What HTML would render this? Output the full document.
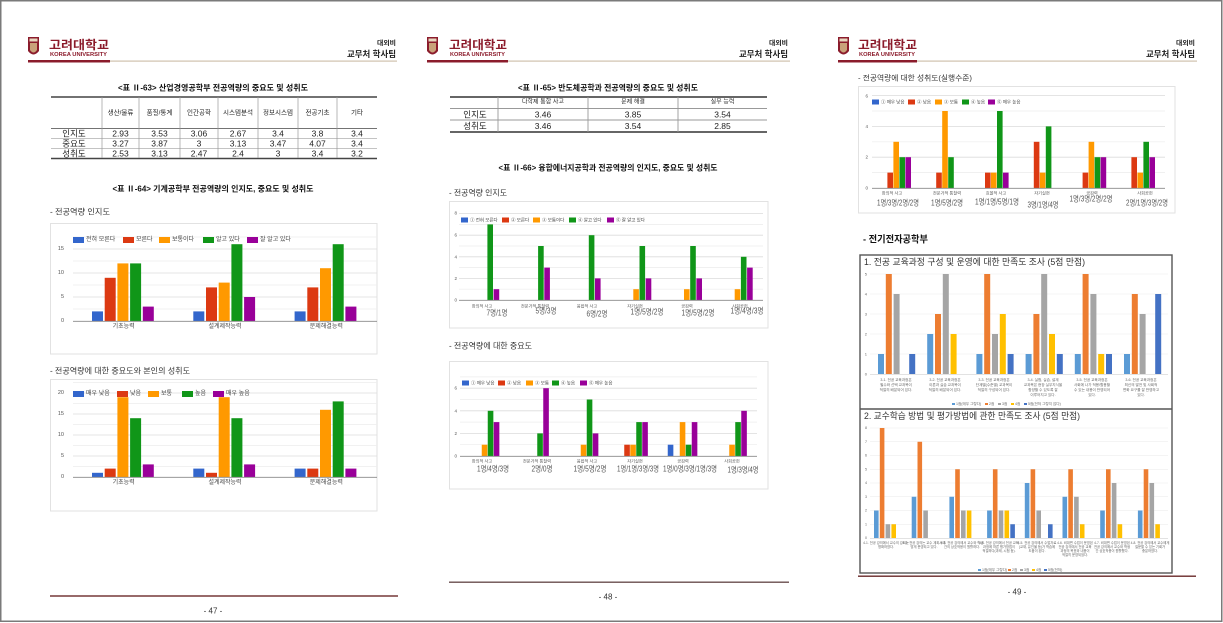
<!DOCTYPE html>
<html><head><meta charset="utf-8">
<style>
html,body{margin:0;padding:0;background:#fff;}
svg{display:block;font-family:"Liberation Sans","Noto Sans CJK KR",sans-serif;}
</style></head>
<body>
<svg width="1223" height="623" viewBox="0 0 1223 623" xmlns="http://www.w3.org/2000/svg">
<rect x="0" y="0" width="1223" height="623" fill="#fff"/>
<!-- outer border -->
<rect x="0.75" y="0.75" width="1221" height="620.5" fill="none" stroke="#7a7a7a" stroke-width="1.5"/>

<!-- ================= HEADERS ================= -->
<g id="hdr1">
  <path d="M28,37 H39 V51 Q33.5,58 28,51 Z" fill="#8b1c2c"/>
  <rect x="29.5" y="38.5" width="8" height="3" fill="#e8d7c0"/>
  <path d="M30,43 H37 V50 Q33.5,55 30,50 Z" fill="#c9a27a"/>
  <text x="49" y="49" font-size="12" font-weight="bold" fill="#8b1a2a" textLength="60" lengthAdjust="spacingAndGlyphs">고려대학교</text>
  <text x="50" y="56" font-size="5" font-weight="bold" fill="#8b1a2a" textLength="57" lengthAdjust="spacingAndGlyphs">KOREA UNIVERSITY</text>
  <rect x="110" y="60.5" width="287" height="1.2" fill="#cfc2ad"/>
  <rect x="28" y="60" width="82" height="2.5" fill="#8b1c2c"/>
  <text x="396" y="45" font-size="6.5" font-weight="bold" fill="#222" text-anchor="end" textLength="19" lengthAdjust="spacingAndGlyphs">대외비</text>
  <text x="396" y="57" font-size="8.5" font-weight="bold" fill="#222" text-anchor="end" textLength="49" lengthAdjust="spacingAndGlyphs">교무처 학사팀</text>
</g>
<g id="hdr2">
  <path d="M427,37 H438 V51 Q432.5,58 427,51 Z" fill="#8b1c2c"/>
  <rect x="428.5" y="38.5" width="8" height="3" fill="#e8d7c0"/>
  <path d="M429,43 H436 V50 Q432.5,55 429,50 Z" fill="#c9a27a"/>
  <text x="449" y="49" font-size="12" font-weight="bold" fill="#8b1a2a" textLength="58" lengthAdjust="spacingAndGlyphs">고려대학교</text>
  <text x="450" y="56" font-size="5" font-weight="bold" fill="#8b1a2a" textLength="55" lengthAdjust="spacingAndGlyphs">KOREA UNIVERSITY</text>
  <rect x="508" y="60.5" width="282" height="1.2" fill="#cfc2ad"/>
  <rect x="427" y="60" width="81" height="2.5" fill="#8b1c2c"/>
  <text x="788" y="45" font-size="6.5" font-weight="bold" fill="#222" text-anchor="end" textLength="19" lengthAdjust="spacingAndGlyphs">대외비</text>
  <text x="788" y="57" font-size="8.5" font-weight="bold" fill="#222" text-anchor="end" textLength="49" lengthAdjust="spacingAndGlyphs">교무처 학사팀</text>
</g>
<g id="hdr3">
  <path d="M838,37 H849 V51 Q843.5,58 838,51 Z" fill="#8b1c2c"/>
  <rect x="839.5" y="38.5" width="8" height="3" fill="#e8d7c0"/>
  <path d="M840,43 H847 V50 Q843.5,55 840,50 Z" fill="#c9a27a"/>
  <text x="858" y="49" font-size="12" font-weight="bold" fill="#8b1a2a" textLength="59" lengthAdjust="spacingAndGlyphs">고려대학교</text>
  <text x="859" y="56" font-size="5" font-weight="bold" fill="#8b1a2a" textLength="56" lengthAdjust="spacingAndGlyphs">KOREA UNIVERSITY</text>
  <rect x="917" y="60.5" width="280" height="1.2" fill="#cfc2ad"/>
  <rect x="838" y="60" width="79" height="2.5" fill="#8b1c2c"/>
  <text x="1195" y="45" font-size="6.5" font-weight="bold" fill="#222" text-anchor="end" textLength="19" lengthAdjust="spacingAndGlyphs">대외비</text>
  <text x="1195" y="57" font-size="8.5" font-weight="bold" fill="#222" text-anchor="end" textLength="49" lengthAdjust="spacingAndGlyphs">교무처 학사팀</text>
</g>

<!-- ================= PAGE 1 ================= -->
<text x="213" y="88" font-size="8" font-weight="bold" fill="#111" text-anchor="middle" dominant-baseline="central" textLength="190" lengthAdjust="spacingAndGlyphs">&lt;표 Ⅱ-63&gt; 산업경영공학부 전공역량의 중요도 및 성취도</text>
<!-- table 1 -->
<g stroke="#444" fill="none">
  <line x1="51" y1="97" x2="377" y2="97" stroke-width="1.6"/>
  <line x1="51" y1="128.5" x2="377" y2="128.5" stroke-width="0.8"/>
  <line x1="51" y1="138.5" x2="377" y2="138.5" stroke-width="0.6" stroke="#888"/>
  <line x1="51" y1="148.5" x2="377" y2="148.5" stroke-width="0.6" stroke="#888"/>
  <line x1="51" y1="158.5" x2="377" y2="158.5" stroke-width="1.4"/>
</g>
<g stroke="#999" stroke-width="0.7">
  <line x1="102" y1="97" x2="102" y2="158"/><line x1="139" y1="97" x2="139" y2="158"/>
  <line x1="180" y1="97" x2="180" y2="158"/><line x1="218" y1="97" x2="218" y2="158"/>
  <line x1="258" y1="97" x2="258" y2="158"/><line x1="298" y1="97" x2="298" y2="158"/>
  <line x1="337" y1="97" x2="337" y2="158"/>
</g>
<g font-size="6.5" fill="#222" text-anchor="middle" dominant-baseline="central">
  <text x="120.5" y="113">생산/물류</text><text x="159.5" y="113">품질/통계</text>
  <text x="199" y="113">인간공학</text><text x="238" y="113">시스템분석</text>
  <text x="278" y="113">정보시스템</text><text x="317.5" y="113">전공기초</text>
  <text x="357" y="113">기타</text>
</g>
<g font-size="8.5" fill="#222" text-anchor="middle" dominant-baseline="central">
  <text x="74" y="133.5">인지도</text><text x="74" y="143.5">중요도</text><text x="74" y="153.5">성취도</text>
  <text x="120.5" y="133.5">2.93</text><text x="159.5" y="133.5">3.53</text><text x="199" y="133.5">3.06</text><text x="238" y="133.5">2.67</text><text x="278" y="133.5">3.4</text><text x="317.5" y="133.5">3.8</text><text x="357" y="133.5">3.4</text>
  <text x="120.5" y="143.5">3.27</text><text x="159.5" y="143.5">3.87</text><text x="199" y="143.5">3</text><text x="238" y="143.5">3.13</text><text x="278" y="143.5">3.47</text><text x="317.5" y="143.5">4.07</text><text x="357" y="143.5">3.4</text>
  <text x="120.5" y="153.5">2.53</text><text x="159.5" y="153.5">3.13</text><text x="199" y="153.5">2.47</text><text x="238" y="153.5">2.4</text><text x="278" y="153.5">3</text><text x="317.5" y="153.5">3.4</text><text x="357" y="153.5">3.2</text>
</g>
<text x="213" y="189" font-size="8" font-weight="bold" fill="#111" text-anchor="middle" dominant-baseline="central" textLength="201" lengthAdjust="spacingAndGlyphs">&lt;표 Ⅱ-64&gt; 기계공학부 전공역량의 인지도, 중요도 및 성취도</text>

<!-- chart 1 p1 -->
<text x="50" y="212" font-size="8" fill="#333" dominant-baseline="central" textLength="60" lengthAdjust="spacingAndGlyphs">- 전공역량 인지도</text>
<rect x="50.5" y="223.5" width="326.5" height="130.5" fill="#fff" stroke="#e2e2e2"/>
<g stroke="#ededed" stroke-width="0.7">
  <line x1="73" y1="309" x2="377" y2="309"/><line x1="73" y1="285" x2="377" y2="285"/><line x1="73" y1="261" x2="377" y2="261"/><line x1="73" y1="237" x2="377" y2="237"/>
</g>
<g stroke="#dcdcdc" stroke-width="0.8">
  <line x1="73" y1="297" x2="377" y2="297"/><line x1="73" y1="273" x2="377" y2="273"/><line x1="73" y1="249" x2="377" y2="249"/>
</g>
<g font-size="5.5" fill="#555" text-anchor="end" dominant-baseline="central">
  <text x="64" y="249">15</text><text x="64" y="273">10</text><text x="64" y="297">5</text><text x="64" y="321">0</text>
</g>
<g transform="translate(0,321) scale(1,-4.8)">
  <g fill="#3366cc"><rect x="92" y="0" width="11" height="2"/><rect x="193.3" y="0" width="11" height="2"/><rect x="294.6" y="0" width="11" height="2"/></g>
  <g fill="#dc3912"><rect x="104.7" y="0" width="11" height="9"/><rect x="206" y="0" width="11" height="7"/><rect x="307.3" y="0" width="11" height="7"/></g>
  <g fill="#ff9900"><rect x="117.4" y="0" width="11" height="12"/><rect x="218.7" y="0" width="11" height="8"/><rect x="320" y="0" width="11" height="11"/></g>
  <g fill="#109618"><rect x="130.1" y="0" width="11" height="12"/><rect x="231.4" y="0" width="11" height="16"/><rect x="332.7" y="0" width="11" height="16"/></g>
  <g fill="#990099"><rect x="142.8" y="0" width="11" height="3"/><rect x="244.1" y="0" width="11" height="5"/><rect x="345.4" y="0" width="11" height="3"/></g>
</g>
<line x1="73" y1="321.3" x2="377" y2="321.3" stroke="#888" stroke-width="0.8"/>
<g font-size="6" fill="#444" dominant-baseline="central">
  <rect x="73" y="237" width="11" height="6" fill="#3366cc"/><text x="86" y="240">전혀 모른다</text>
  <rect x="123" y="237" width="11" height="6" fill="#dc3912"/><text x="136" y="240">모른다</text>
  <rect x="159" y="237" width="11" height="6" fill="#ff9900"/><text x="172" y="240">보통이다</text>
  <rect x="203" y="237" width="11" height="6" fill="#109618"/><text x="216" y="240">알고 있다</text>
  <rect x="247" y="237" width="11" height="6" fill="#990099"/><text x="260" y="240">잘 알고 있다</text>
</g>
<g font-size="6" fill="#444" text-anchor="middle" dominant-baseline="central">
  <text x="123.7" y="327">기초능력</text><text x="225" y="327">설계제작능력</text><text x="326.3" y="327">문제해결능력</text>
</g>

<!-- chart 2 p1 -->
<text x="50" y="371" font-size="8" fill="#333" dominant-baseline="central" textLength="140" lengthAdjust="spacingAndGlyphs">- 전공역량에 대한 중요도와 본인의 성취도</text>
<rect x="50.5" y="379.5" width="326.5" height="131.5" fill="#fff" stroke="#e2e2e2"/>
<g stroke="#ededed" stroke-width="0.7">
  <line x1="73" y1="466.5" x2="377" y2="466.5"/><line x1="73" y1="445.5" x2="377" y2="445.5"/><line x1="73" y1="424.5" x2="377" y2="424.5"/><line x1="73" y1="403.5" x2="377" y2="403.5"/><line x1="73" y1="382.5" x2="377" y2="382.5"/>
</g>
<g stroke="#dcdcdc" stroke-width="0.8">
  <line x1="73" y1="456" x2="377" y2="456"/><line x1="73" y1="435" x2="377" y2="435"/><line x1="73" y1="414" x2="377" y2="414"/><line x1="73" y1="393" x2="377" y2="393"/>
</g>
<g font-size="5.5" fill="#555" text-anchor="end" dominant-baseline="central">
  <text x="64" y="393">20</text><text x="64" y="414">15</text><text x="64" y="435">10</text><text x="64" y="456">5</text><text x="64" y="477">0</text>
</g>
<g transform="translate(0,477) scale(1,-4.2)">
  <g fill="#3366cc"><rect x="92" y="0" width="11" height="1"/><rect x="193.3" y="0" width="11" height="2"/><rect x="294.6" y="0" width="11" height="2"/></g>
  <g fill="#dc3912"><rect x="104.7" y="0" width="11" height="2"/><rect x="206" y="0" width="11" height="1"/><rect x="307.3" y="0" width="11" height="2"/></g>
  <g fill="#ff9900"><rect x="117.4" y="0" width="11" height="19"/><rect x="218.7" y="0" width="11" height="19"/><rect x="320" y="0" width="11" height="16"/></g>
  <g fill="#109618"><rect x="130.1" y="0" width="11" height="14"/><rect x="231.4" y="0" width="11" height="14"/><rect x="332.7" y="0" width="11" height="18"/></g>
  <g fill="#990099"><rect x="142.8" y="0" width="11" height="3"/><rect x="244.1" y="0" width="11" height="3"/><rect x="345.4" y="0" width="11" height="2"/></g>
</g>
<line x1="73" y1="477.3" x2="377" y2="477.3" stroke="#888" stroke-width="0.8"/>
<g font-size="6" fill="#444" dominant-baseline="central">
  <rect x="73" y="391" width="11" height="6" fill="#3366cc"/><text x="86" y="394">매우 낮음</text>
  <rect x="117" y="391" width="11" height="6" fill="#dc3912"/><text x="130" y="394">낮음</text>
  <rect x="148" y="391" width="11" height="6" fill="#ff9900"/><text x="161" y="394">보통</text>
  <rect x="182" y="391" width="11" height="6" fill="#109618"/><text x="195" y="394">높음</text>
  <rect x="213" y="391" width="11" height="6" fill="#990099"/><text x="226" y="394">매우 높음</text>
</g>
<g font-size="6" fill="#444" text-anchor="middle" dominant-baseline="central">
  <text x="123.7" y="483">기초능력</text><text x="225" y="483">설계제작능력</text><text x="326.3" y="483">문제해결능력</text>
</g>
<!-- footer p1 -->
<rect x="50" y="595.3" width="348" height="1.4" fill="#6b2b2b"/>
<text x="213" y="611" font-size="8" fill="#333" text-anchor="middle" dominant-baseline="central">- 47 -</text>

<!-- ================= PAGE 2 ================= -->
<text x="608" y="88" font-size="8" font-weight="bold" fill="#111" text-anchor="middle" dominant-baseline="central" textLength="180" lengthAdjust="spacingAndGlyphs">&lt;표 Ⅱ-65&gt; 반도체공학과 전공역량의 중요도 및 성취도</text>
<g stroke="#333" fill="none">
  <line x1="450" y1="97" x2="767" y2="97" stroke-width="1.6"/>
  <line x1="450" y1="108.5" x2="767" y2="108.5" stroke-width="0.7" stroke="#777"/>
  <line x1="450" y1="120" x2="767" y2="120" stroke-width="0.7" stroke="#777"/>
  <line x1="450" y1="132" x2="767" y2="132" stroke-width="1.4"/>
</g>
<g stroke="#999" stroke-width="0.9">
  <line x1="498" y1="97" x2="498" y2="132"/><line x1="588" y1="97" x2="588" y2="132"/><line x1="678" y1="97" x2="678" y2="132"/>
</g>
<g font-size="6" fill="#222" text-anchor="middle" dominant-baseline="central">
  <text x="543" y="102.7">다학제 통합 사고</text><text x="633" y="102.7">문제 해결</text><text x="722.5" y="102.7">실무 능력</text>
</g>
<g font-size="8.5" fill="#222" text-anchor="middle" dominant-baseline="central">
  <text x="475" y="114.3">인지도</text><text x="475" y="126">성취도</text>
  <text x="543" y="114.3">3.46</text><text x="633" y="114.3">3.85</text><text x="722.5" y="114.3">3.54</text>
  <text x="543" y="126">3.46</text><text x="633" y="126">3.54</text><text x="722.5" y="126">2.85</text>
</g>
<text x="608" y="168" font-size="8" font-weight="bold" fill="#111" text-anchor="middle" dominant-baseline="central" textLength="219" lengthAdjust="spacingAndGlyphs">&lt;표 Ⅱ-66&gt; 융합에너지공학과 전공역량의 인지도, 중요도 및 성취도</text>

<!-- chart 1 p2 -->
<text x="449" y="193" font-size="8" fill="#333" dominant-baseline="central" textLength="58" lengthAdjust="spacingAndGlyphs">- 전공역량 인지도</text>
<rect x="449.5" y="201.5" width="318.5" height="126.5" fill="#fff" stroke="#e2e2e2"/>
<g stroke="#ececec" stroke-width="0.7">
  <line x1="459" y1="289.2" x2="763" y2="289.2"/><line x1="459" y1="267.6" x2="763" y2="267.6"/><line x1="459" y1="246" x2="763" y2="246"/><line x1="459" y1="224.4" x2="763" y2="224.4"/>
</g>
<g stroke="#dcdcdc" stroke-width="0.8">
  <line x1="459" y1="278.4" x2="763" y2="278.4"/><line x1="459" y1="256.8" x2="763" y2="256.8"/><line x1="459" y1="235.2" x2="763" y2="235.2"/><line x1="459" y1="213.6" x2="763" y2="213.6"/>
</g>
<g font-size="4.5" fill="#555" text-anchor="end" dominant-baseline="central">
  <text x="457" y="213">8</text><text x="457" y="235.2">6</text><text x="457" y="256.8">4</text><text x="457" y="278.4">2</text><text x="457" y="300">0</text>
</g>
<g transform="translate(0,300) scale(1,-10.8)">
  <g fill="#ff9900"><rect x="633.3" y="0" width="5.6" height="1"/><rect x="684" y="0" width="5.6" height="1"/><rect x="734.7" y="0" width="5.6" height="1"/></g>
  <g fill="#109618"><rect x="487.4" y="0" width="5.6" height="7"/><rect x="538.1" y="0" width="5.6" height="5"/><rect x="588.8" y="0" width="5.6" height="6"/><rect x="639.5" y="0" width="5.6" height="5"/><rect x="690.2" y="0" width="5.6" height="5"/><rect x="740.9" y="0" width="5.6" height="4"/></g>
  <g fill="#990099"><rect x="493.6" y="0" width="5.6" height="1"/><rect x="544.3" y="0" width="5.6" height="3"/><rect x="595" y="0" width="5.6" height="2"/><rect x="645.7" y="0" width="5.6" height="2"/><rect x="696.4" y="0" width="5.6" height="2"/><rect x="747.1" y="0" width="5.6" height="3"/></g>
</g>
<line x1="459" y1="300.3" x2="763" y2="300.3" stroke="#888" stroke-width="0.8"/>
<g font-size="4.5" fill="#444" dominant-baseline="central">
  <rect x="461" y="217.5" width="7" height="5" fill="#3366cc"/><text x="470" y="220">① 전혀 모른다</text>
  <rect x="502" y="217.5" width="7" height="5" fill="#dc3912"/><text x="511" y="220">② 모른다</text>
  <rect x="533" y="217.5" width="7" height="5" fill="#ff9900"/><text x="542" y="220">③ 보통이다</text>
  <rect x="569" y="217.5" width="7" height="5" fill="#109618"/><text x="578" y="220">④ 알고 있다</text>
  <rect x="607" y="217.5" width="7" height="5" fill="#990099"/><text x="616" y="220">⑤ 잘 알고 있다</text>
</g>
<g font-size="4.2" fill="#555" text-anchor="middle" dominant-baseline="central">
  <text x="482" y="306">창의적 사고</text><text x="535" y="306">전문가적 통찰력</text><text x="587" y="306">융합적 사고</text>
  <text x="635" y="306">자기실현</text><text x="687" y="306">공감력</text><text x="740" y="306">사회공헌</text>
</g>
<g font-size="8" fill="#555" text-anchor="middle" dominant-baseline="central">
  <text x="497" y="313" textLength="21" lengthAdjust="spacingAndGlyphs">7명/1명</text>
  <text x="546" y="311" textLength="21" lengthAdjust="spacingAndGlyphs">5명/3명</text>
  <text x="597" y="314" textLength="21" lengthAdjust="spacingAndGlyphs">6명/2명</text>
  <text x="647" y="312" textLength="33" lengthAdjust="spacingAndGlyphs">1명/5명/2명</text>
  <text x="698" y="313" textLength="33" lengthAdjust="spacingAndGlyphs">1명/5명/2명</text>
  <text x="747" y="311" textLength="33" lengthAdjust="spacingAndGlyphs">1명/4명/3명</text>
</g>

<!-- chart 2 p2 -->
<text x="449" y="346" font-size="8" fill="#333" dominant-baseline="central" textLength="83" lengthAdjust="spacingAndGlyphs">- 전공역량에 대한 중요도</text>
<rect x="449.5" y="361.5" width="318.5" height="127.5" fill="#fff" stroke="#e2e2e2"/>
<g stroke="#ececec" stroke-width="0.7">
  <line x1="460" y1="444.7" x2="757" y2="444.7"/><line x1="460" y1="422.1" x2="757" y2="422.1"/><line x1="460" y1="399.5" x2="757" y2="399.5"/><line x1="460" y1="376.9" x2="757" y2="376.9"/>
</g>
<g stroke="#dcdcdc" stroke-width="0.8">
  <line x1="460" y1="433.4" x2="757" y2="433.4"/><line x1="460" y1="410.8" x2="757" y2="410.8"/><line x1="460" y1="388.2" x2="757" y2="388.2"/>
</g>
<g font-size="4.5" fill="#555" text-anchor="end" dominant-baseline="central">
  <text x="457" y="388.2">6</text><text x="457" y="410.8">4</text><text x="457" y="433.4">2</text><text x="457" y="456">0</text>
</g>
<g transform="translate(0,456) scale(1,-11.3)">
  <g fill="#3366cc"><rect x="667.75" y="0" width="5.6" height="1"/></g>
  <g fill="#dc3912"><rect x="624.25" y="0" width="5.6" height="1"/></g>
  <g fill="#ff9900"><rect x="481.75" y="0" width="5.6" height="1"/><rect x="580.75" y="0" width="5.6" height="1"/><rect x="630.25" y="0" width="5.6" height="1"/><rect x="679.75" y="0" width="5.6" height="3"/><rect x="729.25" y="0" width="5.6" height="1"/></g>
  <g fill="#109618"><rect x="487.75" y="0" width="5.6" height="4"/><rect x="537.25" y="0" width="5.6" height="2"/><rect x="586.75" y="0" width="5.6" height="5"/><rect x="636.25" y="0" width="5.6" height="3"/><rect x="685.75" y="0" width="5.6" height="1"/><rect x="735.25" y="0" width="5.6" height="3"/></g>
  <g fill="#990099"><rect x="493.75" y="0" width="5.6" height="3"/><rect x="543.25" y="0" width="5.6" height="6"/><rect x="592.75" y="0" width="5.6" height="2"/><rect x="642.25" y="0" width="5.6" height="3"/><rect x="691.75" y="0" width="5.6" height="3"/><rect x="741.25" y="0" width="5.6" height="4"/></g>
</g>
<line x1="460" y1="456.3" x2="757" y2="456.3" stroke="#888" stroke-width="0.8"/>
<g font-size="4.5" fill="#444" dominant-baseline="central">
  <rect x="462" y="380.5" width="7" height="5" fill="#3366cc"/><text x="471" y="383">① 매우 낮음</text>
  <rect x="498" y="380.5" width="7" height="5" fill="#dc3912"/><text x="507" y="383">② 낮음</text>
  <rect x="526" y="380.5" width="7" height="5" fill="#ff9900"/><text x="535" y="383">③ 보통</text>
  <rect x="552" y="380.5" width="7" height="5" fill="#109618"/><text x="561" y="383">④ 높음</text>
  <rect x="580" y="380.5" width="7" height="5" fill="#990099"/><text x="589" y="383">⑤ 매우 높음</text>
</g>
<g font-size="4.2" fill="#555" text-anchor="middle" dominant-baseline="central">
  <text x="482" y="461">창의적 사고</text><text x="537" y="461">전문가적 통찰력</text><text x="587" y="461">융합적 사고</text>
  <text x="635" y="461">자기실현</text><text x="683" y="461">공감력</text><text x="732" y="461">사회공헌</text>
</g>
<g font-size="8" fill="#555" text-anchor="middle" dominant-baseline="central">
  <text x="493" y="469" textLength="32" lengthAdjust="spacingAndGlyphs">1명/4명/3명</text>
  <text x="542" y="469" textLength="21" lengthAdjust="spacingAndGlyphs">2명/0명</text>
  <text x="590" y="469" textLength="33" lengthAdjust="spacingAndGlyphs">1명/5명/2명</text>
  <text x="638" y="469" textLength="42" lengthAdjust="spacingAndGlyphs">1명/1명/3명/3명</text>
  <text x="690" y="469" textLength="54" lengthAdjust="spacingAndGlyphs">1명/0명/3명/1명/3명</text>
  <text x="743" y="470" textLength="31" lengthAdjust="spacingAndGlyphs">1명/3명/4명</text>
</g>
<!-- footer p2 -->
<rect x="449" y="581.5" width="340" height="1.4" fill="#6b5050"/>
<text x="608" y="597" font-size="8" fill="#333" text-anchor="middle" dominant-baseline="central">- 48 -</text>

<!-- ================= PAGE 3 ================= -->
<text x="858" y="78" font-size="7.5" fill="#333" dominant-baseline="central" textLength="114" lengthAdjust="spacingAndGlyphs">- 전공역량에 대한 성취도(실행수준)</text>
<rect x="858.5" y="86.5" width="316.5" height="126.5" fill="#fff" stroke="#e2e2e2"/>
<g stroke="#ececec" stroke-width="0.7">
  <line x1="872" y1="172.6" x2="1165" y2="172.6"/><line x1="872" y1="141.8" x2="1165" y2="141.8"/><line x1="872" y1="111" x2="1165" y2="111"/>
</g>
<g stroke="#dcdcdc" stroke-width="0.8">
  <line x1="872" y1="157.2" x2="1165" y2="157.2"/><line x1="872" y1="126.4" x2="1165" y2="126.4"/><line x1="872" y1="95.6" x2="1165" y2="95.6"/>
</g>
<g font-size="4.5" fill="#555" text-anchor="end" dominant-baseline="central">
  <text x="868" y="96">6</text><text x="868" y="126.4">4</text><text x="868" y="157.2">2</text><text x="868" y="188">0</text>
</g>
<g transform="translate(0,188) scale(1,-15.4)">
  <g fill="#dc3912"><rect x="887.4" y="0" width="5.6" height="1"/><rect x="936.2" y="0" width="5.6" height="1"/><rect x="985" y="0" width="5.6" height="1"/><rect x="1033.8" y="0" width="5.6" height="3"/><rect x="1082.6" y="0" width="5.6" height="1"/><rect x="1131.4" y="0" width="5.6" height="2"/></g>
  <g fill="#ff9900"><rect x="893.4" y="0" width="5.6" height="3"/><rect x="942.2" y="0" width="5.6" height="5"/><rect x="991" y="0" width="5.6" height="1"/><rect x="1039.8" y="0" width="5.6" height="1"/><rect x="1088.6" y="0" width="5.6" height="3"/><rect x="1137.4" y="0" width="5.6" height="1"/></g>
  <g fill="#109618"><rect x="899.4" y="0" width="5.6" height="2"/><rect x="948.2" y="0" width="5.6" height="2"/><rect x="997" y="0" width="5.6" height="5"/><rect x="1045.8" y="0" width="5.6" height="4"/><rect x="1094.6" y="0" width="5.6" height="2"/><rect x="1143.4" y="0" width="5.6" height="3"/></g>
  <g fill="#990099"><rect x="905.4" y="0" width="5.6" height="2"/><rect x="1003" y="0" width="5.6" height="1"/><rect x="1100.6" y="0" width="5.6" height="2"/><rect x="1149.4" y="0" width="5.6" height="2"/></g>
</g>
<line x1="872" y1="188.3" x2="1165" y2="188.3" stroke="#888" stroke-width="0.8"/>
<g font-size="4.5" fill="#444" dominant-baseline="central">
  <rect x="872" y="99.5" width="7" height="5" fill="#3366cc"/><text x="881" y="102">① 매우 낮음</text>
  <rect x="908" y="99.5" width="7" height="5" fill="#dc3912"/><text x="917" y="102">② 낮음</text>
  <rect x="935" y="99.5" width="7" height="5" fill="#ff9900"/><text x="944" y="102">③ 보통</text>
  <rect x="962" y="99.5" width="7" height="5" fill="#109618"/><text x="971" y="102">④ 높음</text>
  <rect x="988" y="99.5" width="7" height="5" fill="#990099"/><text x="997" y="102">⑤ 매우 높음</text>
</g>
<g font-size="4.2" fill="#555" text-anchor="middle" dominant-baseline="central">
  <text x="892" y="193">창의적 사고</text><text x="947" y="193">전문가적 통찰력</text><text x="996" y="193">효율적 사고</text>
  <text x="1042" y="193">자기실현</text><text x="1092" y="193">공감력</text><text x="1145" y="193">사회공헌</text>
</g>
<g font-size="8" fill="#555" text-anchor="middle" dominant-baseline="central">
  <text x="898" y="203" textLength="42" lengthAdjust="spacingAndGlyphs">1명/3명/2명/2명</text>
  <text x="947" y="203" textLength="32" lengthAdjust="spacingAndGlyphs">1명/5명/2명</text>
  <text x="997" y="202" textLength="44" lengthAdjust="spacingAndGlyphs">1명/1명/5명/1명</text>
  <text x="1043" y="205" textLength="31" lengthAdjust="spacingAndGlyphs">3명/1명/4명</text>
  <text x="1091" y="199" textLength="43" lengthAdjust="spacingAndGlyphs">1명/3명/2명/2명</text>
  <text x="1147" y="203" textLength="42" lengthAdjust="spacingAndGlyphs">2명/1명/3명/2명</text>
</g>

<text x="863" y="240" font-size="9.5" font-weight="bold" fill="#111" dominant-baseline="central" textLength="65" lengthAdjust="spacingAndGlyphs">- 전기전자공학부</text>

<!-- box 1 -->
<rect x="860" y="255" width="312" height="318" fill="#fff" stroke="#555" stroke-width="1.4"/>
<line x1="860" y1="409" x2="1172" y2="409" stroke="#555" stroke-width="1.4"/>
<text x="864" y="262" font-size="9" fill="#333" dominant-baseline="central" textLength="221" lengthAdjust="spacingAndGlyphs">1. 전공 교육과정 구성 및 운영에 대한 만족도 조사 (5점 만점)</text>
<g stroke="#eaeaea" stroke-width="0.6">
  <line x1="870" y1="354" x2="1168" y2="354"/><line x1="870" y1="334" x2="1168" y2="334"/><line x1="870" y1="314" x2="1168" y2="314"/><line x1="870" y1="294" x2="1168" y2="294"/><line x1="870" y1="274" x2="1168" y2="274"/>
</g>
<line x1="870" y1="374.3" x2="1168" y2="374.3" stroke="#d0d0d0" stroke-width="0.7"/>
<g font-size="4" fill="#666" text-anchor="end" dominant-baseline="central">
  <text x="867" y="274">5</text><text x="867" y="294">4</text><text x="867" y="314">3</text><text x="867" y="334">2</text><text x="867" y="354">1</text><text x="867" y="374">0</text>
</g>
<g transform="translate(0,374) scale(1,-20)">
  <g fill="#5b9bd5"><rect x="878" y="0" width="6" height="1"/><rect x="927.2" y="0" width="6" height="2"/><rect x="976.4" y="0" width="6" height="1"/><rect x="1025.6" y="0" width="6" height="1"/><rect x="1074.8" y="0" width="6" height="1"/><rect x="1124" y="0" width="6" height="1"/></g>
  <g fill="#ed7d31"><rect x="885.8" y="0" width="6" height="5"/><rect x="935" y="0" width="6" height="3"/><rect x="984.2" y="0" width="6" height="5"/><rect x="1033.4" y="0" width="6" height="3"/><rect x="1082.6" y="0" width="6" height="5"/><rect x="1131.8" y="0" width="6" height="4"/></g>
  <g fill="#a5a5a5"><rect x="893.6" y="0" width="6" height="4"/><rect x="942.8" y="0" width="6" height="5"/><rect x="992" y="0" width="6" height="2"/><rect x="1041.2" y="0" width="6" height="5"/><rect x="1090.4" y="0" width="6" height="4"/><rect x="1139.6" y="0" width="6" height="3"/></g>
  <g fill="#ffc000"><rect x="950.6" y="0" width="6" height="2"/><rect x="999.8" y="0" width="6" height="3"/><rect x="1049" y="0" width="6" height="2"/><rect x="1098.2" y="0" width="6" height="1"/></g>
  <g fill="#4472c4"><rect x="909.2" y="0" width="6" height="1"/><rect x="1007.6" y="0" width="6" height="1"/><rect x="1056.8" y="0" width="6" height="1"/><rect x="1106" y="0" width="6" height="1"/><rect x="1155.2" y="0" width="6" height="4"/></g>
</g>
<g font-size="3.6" fill="#666" text-anchor="middle">
  <text x="896" y="381">3-1. 전공 교육과정은</text><text x="896" y="386">필수와 선택 교과목이</text><text x="896" y="391">적절히 배분되어 있다.</text>
  <text x="945" y="381">3-2. 전공 교육과정은</text><text x="945" y="386">이론과 실습 교과목이</text><text x="945" y="391">적절히 배분되어 있다.</text>
  <text x="994" y="381">3-3. 전공 교육과정은</text><text x="994" y="386">단계별(수준별) 교과목이</text><text x="994" y="391">적절히 구성되어 있다.</text>
  <text x="1043" y="381">3-4. 실험, 실습, 설계</text><text x="1043" y="386">교과목은 현장 실무지식을</text><text x="1043" y="391">함양할 수 있도록 잘</text><text x="1043" y="396">이루어지고 있다.</text>
  <text x="1092" y="381">3-5. 전공 교육과정은</text><text x="1092" y="386">사회에 나가 적용/활용할</text><text x="1092" y="391">수 있는 내용이 반영되어</text><text x="1092" y="396">있다.</text>
  <text x="1141" y="381">3-6. 전공 교육과정은</text><text x="1141" y="386">최신의 발전 및 사회적</text><text x="1141" y="391">변화 요구를 잘 반영하고</text><text x="1141" y="396">있다.</text>
</g>
<g font-size="3.6" fill="#666" dominant-baseline="central">
  <rect x="952" y="403" width="3" height="2" fill="#5b9bd5"/><text x="956" y="404">1점(매우 그렇다)</text>
  <rect x="985" y="403" width="3" height="2" fill="#ed7d31"/><text x="989" y="404">2점</text>
  <rect x="998" y="403" width="3" height="2" fill="#a5a5a5"/><text x="1002" y="404">3점</text>
  <rect x="1011" y="403" width="3" height="2" fill="#ffc000"/><text x="1015" y="404">4점</text>
  <rect x="1024" y="403" width="3" height="2" fill="#4472c4"/><text x="1028" y="404">5점(전혀 그렇지 않다)</text>
</g>

<!-- box 2 -->
<text x="864" y="416" font-size="9" fill="#333" dominant-baseline="central" textLength="216" lengthAdjust="spacingAndGlyphs">2. 교수학습 방법 및 평가방법에 관한 만족도 조사 (5점 만점)</text>
<g stroke="#eaeaea" stroke-width="0.6">
  <line x1="870" y1="524.25" x2="1168" y2="524.25"/><line x1="870" y1="510.5" x2="1168" y2="510.5"/><line x1="870" y1="496.75" x2="1168" y2="496.75"/><line x1="870" y1="483" x2="1168" y2="483"/><line x1="870" y1="469.25" x2="1168" y2="469.25"/><line x1="870" y1="455.5" x2="1168" y2="455.5"/><line x1="870" y1="441.75" x2="1168" y2="441.75"/><line x1="870" y1="428" x2="1168" y2="428"/>
</g>
<line x1="870" y1="538.3" x2="1168" y2="538.3" stroke="#d0d0d0" stroke-width="0.7"/>
<g font-size="3.6" fill="#666" text-anchor="end" dominant-baseline="central">
  <text x="867" y="428">8</text><text x="867" y="441.75">7</text><text x="867" y="455.5">6</text><text x="867" y="469.25">5</text><text x="867" y="483">4</text><text x="867" y="496.75">3</text><text x="867" y="510.5">2</text><text x="867" y="524.25">1</text><text x="867" y="538">0</text>
</g>
<g transform="translate(0,538) scale(1,-13.75)">
  <g fill="#5b9bd5"><rect x="874" y="0" width="4.6" height="2"/><rect x="911.7" y="0" width="4.6" height="3"/><rect x="949.4" y="0" width="4.6" height="3"/><rect x="987.1" y="0" width="4.6" height="2"/><rect x="1024.8" y="0" width="4.6" height="4"/><rect x="1062.5" y="0" width="4.6" height="3"/><rect x="1100.2" y="0" width="4.6" height="2"/><rect x="1137.9" y="0" width="4.6" height="2"/></g>
  <g fill="#ed7d31"><rect x="879.8" y="0" width="4.6" height="8"/><rect x="917.5" y="0" width="4.6" height="7"/><rect x="955.2" y="0" width="4.6" height="5"/><rect x="992.9" y="0" width="4.6" height="5"/><rect x="1030.6" y="0" width="4.6" height="5"/><rect x="1068.3" y="0" width="4.6" height="5"/><rect x="1106" y="0" width="4.6" height="5"/><rect x="1143.7" y="0" width="4.6" height="5"/></g>
  <g fill="#a5a5a5"><rect x="885.6" y="0" width="4.6" height="1"/><rect x="923.3" y="0" width="4.6" height="2"/><rect x="961" y="0" width="4.6" height="2"/><rect x="998.7" y="0" width="4.6" height="2"/><rect x="1036.4" y="0" width="4.6" height="2"/><rect x="1074.1" y="0" width="4.6" height="3"/><rect x="1111.8" y="0" width="4.6" height="4"/><rect x="1149.5" y="0" width="4.6" height="4"/></g>
  <g fill="#ffc000"><rect x="891.4" y="0" width="4.6" height="1"/><rect x="966.8" y="0" width="4.6" height="2"/><rect x="1004.5" y="0" width="4.6" height="2"/><rect x="1079.9" y="0" width="4.6" height="1"/><rect x="1117.6" y="0" width="4.6" height="1"/><rect x="1155.3" y="0" width="4.6" height="1"/></g>
  <g fill="#4472c4"><rect x="1010.3" y="0" width="4.6" height="1"/><rect x="1048" y="0" width="4.6" height="1"/></g>
</g>
<g font-size="3.3" fill="#666" text-anchor="middle">
  <text x="886" y="544">4-1. 전공 강의에서 교수의 강의는</text><text x="886" y="548">명확하였다.</text>
  <text x="924" y="544">4-2. 전공 강의는 교수 계획서에</text><text x="924" y="548">맞게 운영되고 있다.</text>
  <text x="962" y="544">4-3. 전공 강의에서 교수와 학생</text><text x="962" y="548">간의 상호작용이 원활하다.</text>
  <text x="999" y="544">4-4. 전공 강의에서 전공 교육</text><text x="999" y="548">과정에 따른 평가방법이</text><text x="999" y="552">적절하다(과제, 시험 등).</text>
  <text x="1037" y="544">4-5. 전공 강의에서 수업자료</text><text x="1037" y="548">(교재, 유인물 등)가 학습에</text><text x="1037" y="552">도움이 된다.</text>
  <text x="1075" y="544">4-6. 비대면 수업이 운영된</text><text x="1075" y="548">전공 강의에서 전공 교육</text><text x="1075" y="552">과정의 목표와 내용이</text><text x="1075" y="556">적절히 운영되었다.</text>
  <text x="1112" y="544">4-7. 비대면 수업이 운영된</text><text x="1112" y="548">전공 강의에서 교수와 학생</text><text x="1112" y="552">간 상호작용이 원활했다.</text>
  <text x="1150" y="544">4-8. 전공 강의에서 교수에게</text><text x="1150" y="548">질문할 수 있는 기회가</text><text x="1150" y="552">충분하였다.</text>
</g>
<g font-size="3.6" fill="#666" dominant-baseline="central">
  <rect x="978" y="569" width="3" height="2" fill="#5b9bd5"/><text x="982" y="570">1점(매우 그렇다)</text>
  <rect x="1008" y="569" width="3" height="2" fill="#ed7d31"/><text x="1012" y="570">2점</text>
  <rect x="1020" y="569" width="3" height="2" fill="#a5a5a5"/><text x="1024" y="570">3점</text>
  <rect x="1032" y="569" width="3" height="2" fill="#ffc000"/><text x="1036" y="570">4점</text>
  <rect x="1044" y="569" width="3" height="2" fill="#4472c4"/><text x="1048" y="570">5점(전혀)</text>
</g>
<!-- footer p3 -->
<rect x="858" y="575.5" width="338" height="1.4" fill="#6b2b2b"/>
<text x="1017" y="592" font-size="8" fill="#333" text-anchor="middle" dominant-baseline="central">- 49 -</text>
</svg>
</body></html>
